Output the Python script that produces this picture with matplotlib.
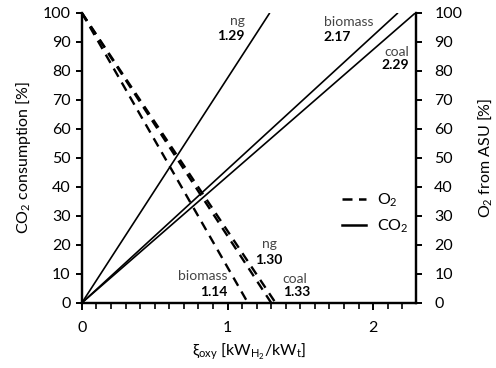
import matplotlib
matplotlib.use('Agg')
import matplotlib.pyplot as plt
from matplotlib.ticker import MultipleLocator
from matplotlib.lines import Line2D

plt.rcParams['font.family'] = ['Lato', 'DejaVu Sans']
plt.rcParams['mathtext.fontset'] = 'custom'
plt.rcParams['mathtext.rm'] = 'Lato'
plt.rcParams['mathtext.it'] = 'Lato'

fuels = ['ng', 'biomass', 'coal']
xi_co2 = [1.29, 2.17, 2.29]   # xi where CO2 consumption reaches 100 %
xi_o2 = [1.30, 1.14, 1.33]    # xi where O2 from ASU drops to 0 %

fig = plt.figure(figsize=(4.96, 3.68), dpi=100)
ax = fig.add_axes([0.165, 0.177, 0.674, 0.788])
ax2 = ax.twinx()

for x in xi_co2:
    ax.plot([0, x], [0, 100], '-', color='black', lw=1.2, solid_capstyle='butt')
for x in xi_o2:
    ax2.plot([0, x], [100, 0], color='black', lw=1.7, dashes=(4, 2.8))

for a in (ax, ax2):
    a.set_xlim(0, 2.295)
    a.set_ylim(0, 100)
    a.spines['top'].set_visible(False)
    for s in a.spines.values():
        s.set_linewidth(1.6)
    a.yaxis.set_major_locator(MultipleLocator(10))

tfs = 11.5
ax.xaxis.set_major_locator(MultipleLocator(1))
ax.xaxis.set_minor_locator(MultipleLocator(0.1))
ax.tick_params(axis='x', which='major', length=5, width=1.4, labelsize=tfs, pad=8)
ax.tick_params(axis='x', which='minor', length=4, width=1.2)
ax.tick_params(axis='y', length=4, width=1.4, labelsize=tfs, pad=4)
ax2.tick_params(axis='y', length=4, width=1.4, labelsize=tfs, pad=9)

ax.set_ylabel('CO$_2$ consumption [%]', fontsize=tfs, labelpad=7)
ax2.set_ylabel('O$_2$ from ASU [%]', fontsize=tfs, labelpad=10)
ax.set_xlabel(r'$\xi_{\rm oxy}$ [kW$_{\rm H_2}$/kW$_{\rm t}$]', fontsize=tfs, labelpad=5)

# annotations
fs = 10
grey = '#444444'
ax.text(1.069, 97.2, 'ng', fontsize=fs, ha='center', va='center', color=grey)
ax.text(1.12, 91.9, '1.29', fontsize=fs, ha='right', va='center', fontweight='bold')
ax.text(1.66, 96.7, 'biomass', fontsize=fs, ha='left', va='center', color=grey)
ax.text(1.66, 91.7, '2.17', fontsize=fs, ha='left', va='center', fontweight='bold')
ax.text(2.245, 86.6, 'coal', fontsize=fs, ha='right', va='center', color=grey)
ax.text(2.245, 82.0, '2.29', fontsize=fs, ha='right', va='center', fontweight='bold')
ax.text(1.285, 20.3, 'ng', fontsize=fs, ha='center', va='center', color=grey)
ax.text(1.285, 14.8, '1.30', fontsize=fs, ha='center', va='center', fontweight='bold')
ax.text(1.0, 9.1, 'biomass', fontsize=fs, ha='right', va='center', color=grey)
ax.text(1.0, 3.8, '1.14', fontsize=fs, ha='right', va='center', fontweight='bold')
ax.text(1.375, 8.3, 'coal', fontsize=fs, ha='left', va='center', color=grey)
ax.text(1.38, 3.8, '1.33', fontsize=fs, ha='left', va='center', fontweight='bold')

handles = [Line2D([], [], color='black', lw=1.8, dashes=(4, 2.6)),
           Line2D([], [], color='black', lw=1.8)]
ax.legend(handles, ['O$_2$', 'CO$_2$'], loc='lower right', bbox_to_anchor=(1.02, 0.185),
          frameon=False, fontsize=tfs, handlelength=1.5, handletextpad=0.7, labelspacing=0.5)

fig.savefig('out.png', dpi=100)
